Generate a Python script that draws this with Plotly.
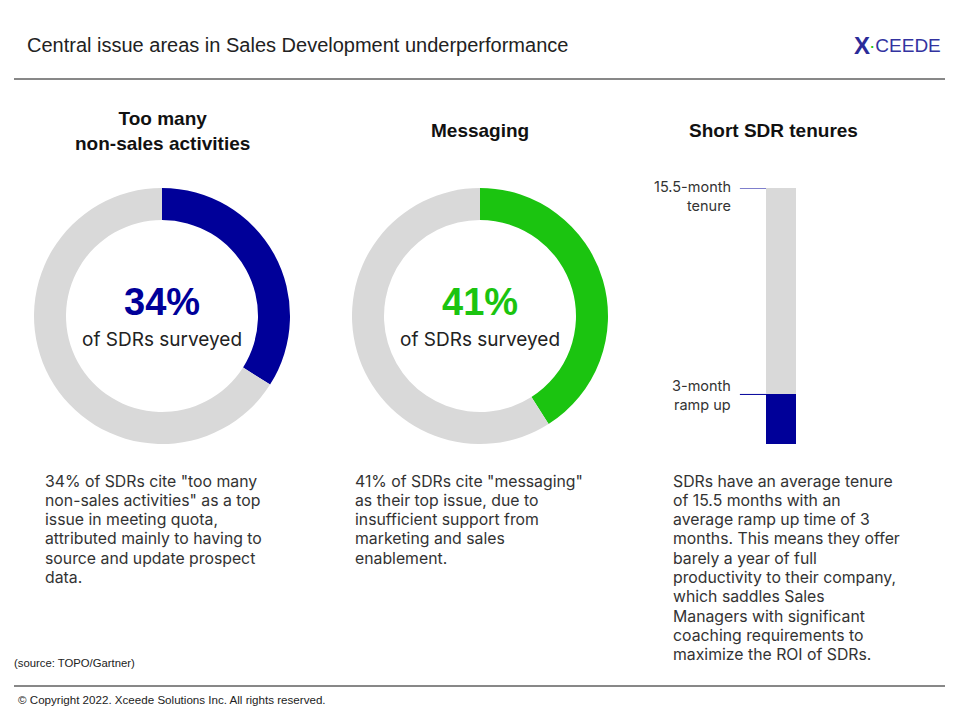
import plotly.graph_objects as go

W, H = 960, 720
OFF = 8  # default body margin of the page
FW, FH = W - OFF, H - OFF

# ---- data ----
donut_titles = ["Too many<br>non-sales activities", "Messaging"]
donut_values = [34, 41]
donut_colors = ["#000099", "#1BC410"]
bar_title = "Short SDR tenures"
tenure_months = 15.5
ramp_months = 3
bar_labels = ["15.5-month<br>tenure", "3-month<br>ramp up"]
body_texts = [
    "34% of SDRs cite \"too many<br>non-sales activities\" as a top<br>issue in meeting quota,<br>attributed mainly to having to<br>source and update prospect<br>data.",
    "41% of SDRs cite \"messaging\"<br>as their top issue, due to<br>insufficient support from<br>marketing and sales<br>enablement.",
    "SDRs have an average tenure<br>of 15.5 months with an<br>average ramp up time of 3<br>months. This means they offer<br>barely a year of full<br>productivity to their company,<br>which saddles Sales<br>Managers with significant<br>coaching requirements to<br>maximize the ROI of SDRs.",
]
title = "Central issue areas in Sales Development underperformance"
source = "(source: TOPO/Gartner)"
copyright_txt = "© Copyright 2022. Xceede Solutions Inc. All rights reserved."

GRAY = "#D9D9D9"
TXT = "#222222"
FONT = "Liberation Sans, Arial, sans-serif"
BODY_FONT = "Inter, Liberation Sans, sans-serif"


def px(x):
    return (x - OFF) / FW


def py(y):
    return 1 - (y - OFF) / FH


fig = go.Figure()

centers = [162, 480]
R = 128
CY = 316
for cx, v, c in zip(centers, donut_values, donut_colors):
    fig.add_trace(go.Pie(
        values=[v, 100 - v],
        marker=dict(colors=[c, GRAY], line=dict(width=0)),
        hole=0.75, sort=False, direction="clockwise", rotation=0,
        textinfo="none", hoverinfo="skip", showlegend=False,
        domain=dict(x=[px(cx - R), px(cx + R)], y=[py(CY + R), py(CY - R)]),
    ))

# stacked bar
fig.add_trace(go.Bar(x=[0], y=[ramp_months], marker_color="#000099",
                     marker_line_width=0, hoverinfo="skip", showlegend=False))
fig.add_trace(go.Bar(x=[0], y=[tenure_months - ramp_months], marker_color=GRAY,
                     marker_line_width=0, hoverinfo="skip", showlegend=False))

fig.update_layout(
    width=FW, height=FH, margin=dict(l=0, r=0, t=0, b=0),
    paper_bgcolor="white", plot_bgcolor="rgba(0,0,0,0)",
    barmode="stack", bargap=0,
    xaxis=dict(domain=[px(766), px(796)], range=[-0.5, 0.5], visible=False, fixedrange=True),
    yaxis=dict(domain=[py(444), py(188)], range=[0, tenure_months], visible=False, fixedrange=True),
    font=dict(family=FONT, color=TXT),
)

# marker lines for bar labels
for yv in [tenure_months, ramp_months]:
    fig.add_shape(type="line", xref="x domain", yref="y", x0=-0.87, x1=0, y0=yv, y1=yv,
                  line=dict(color="#000099", width=1))

for yv, lab, lift in zip([tenure_months, ramp_months], bar_labels, [2, 9]):
    for i, line in enumerate(lab.split("<br>")):
        fig.add_annotation(text=line, xref="paper", yref="y", x=px(733), y=yv,
                           xanchor="right", yanchor="middle", yshift=lift - 19 * i, align="right",
                           showarrow=False, font=dict(size=14.5, color="#333333", family=BODY_FONT))

# headings
fig.add_annotation(text="<b>" + donut_titles[0] + "</b>", xref="paper", yref="paper",
                   x=px(162), y=py(131), xanchor="center", yanchor="middle", showarrow=False,
                   font=dict(size=19, color="#111111"))
fig.add_annotation(text="<b>" + donut_titles[1] + "</b>", xref="paper", yref="paper",
                   x=px(480), y=py(131), xanchor="center", yanchor="middle", showarrow=False,
                   font=dict(size=19, color="#111111"))
fig.add_annotation(text="<b>" + bar_title + "</b>", xref="paper", yref="paper",
                   x=px(773), y=py(131), xanchor="center", yanchor="middle", showarrow=False,
                   font=dict(size=19, color="#111111"))

# donut centers
for cx, v, c in zip(centers, donut_values, donut_colors):
    fig.add_annotation(text=f"<b>{v}%</b>", xref="paper", yref="paper", x=px(cx), y=py(302),
                       xanchor="center", yanchor="middle", showarrow=False,
                       font=dict(size=38, color=c))
    fig.add_annotation(text="of SDRs surveyed", xref="paper", yref="paper", x=px(cx), y=py(340),
                       xanchor="center", yanchor="middle", showarrow=False,
                       font=dict(size=19, color=TXT, family=BODY_FONT))

# body text (one annotation per line for exact line spacing)
for x0, t in zip([43, 353, 671], body_texts):
    for i, line in enumerate(t.split("<br>")):
        fig.add_annotation(text=line, xref="paper", yref="paper", x=px(x0), y=py(481 + 19.3 * i),
                           xanchor="left", yanchor="middle", align="left", showarrow=False,
                           font=dict(size=15.8, color="#333333", family=BODY_FONT))

# title, lines, footer
fig.add_annotation(text=title, xref="paper", yref="paper", x=px(25), y=py(45),
                   xanchor="left", yanchor="middle", showarrow=False,
                   font=dict(size=20, color=TXT))
fig.add_shape(type="line", xref="paper", yref="paper", x0=px(14), x1=px(945), y0=py(79), y1=py(79),
              line=dict(color="#111111", width=1))
fig.add_shape(type="line", xref="paper", yref="paper", x0=px(14), x1=px(945), y0=py(686), y1=py(686),
              line=dict(color="#111111", width=1))
fig.add_annotation(text=source, xref="paper", yref="paper", x=px(12), y=py(663),
                   xanchor="left", yanchor="middle", showarrow=False,
                   font=dict(size=11.3, color=TXT))
fig.add_annotation(text=copyright_txt, xref="paper", yref="paper", x=px(16), y=py(699),
                   xanchor="left", yanchor="middle", showarrow=False,
                   font=dict(size=11.6, color=TXT))

# logo
fig.add_annotation(text="<b>X</b>", xref="paper", yref="paper",
                   x=px(862), y=py(45), xanchor="center", yanchor="middle", showarrow=False,
                   font=dict(size=24, color="#2B2B99"))
fig.add_annotation(text="<span style='color:#1BC410'>·</span>CEEDE", xref="paper", yref="paper",
                   x=px(943), y=py(45), xanchor="right", yanchor="middle", showarrow=False,
                   font=dict(size=19, color="#3333A0"))

fig.write_html("out.html")
